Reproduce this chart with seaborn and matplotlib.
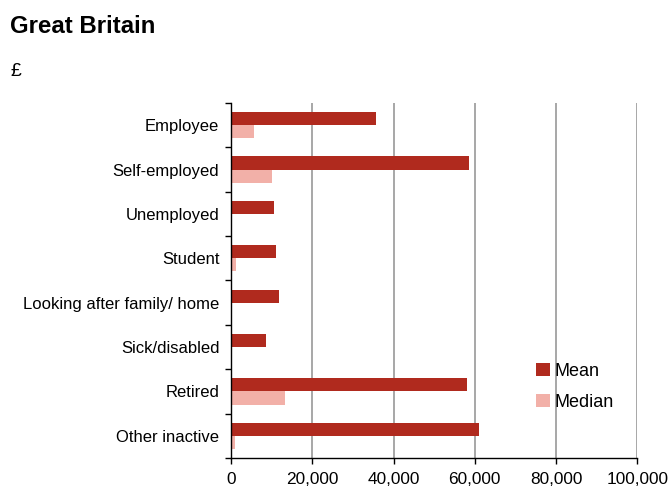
import matplotlib
matplotlib.use("Agg")
import matplotlib.pyplot as plt
import seaborn as sns
import pandas as pd
from matplotlib.ticker import FuncFormatter, FixedLocator
from matplotlib.patches import Patch

categories = ["Employee", "Self-employed", "Unemployed", "Student",
              "Looking after family/ home", "Sick/disabled", "Retired",
              "Other inactive"]
mean_values = [35600, 58500, 10500, 11000, 11700, 8500, 58000, 61000]
median_values = [5600, 10000, 0, 1200, 0, 0, 13200, 900]
series = ["Mean", "Median"]
colors = {"Mean": "#B02A1E", "Median": "#F2B0A8"}

df = pd.DataFrame({
    "category": categories * 2,
    "value": mean_values + median_values,
    "series": ["Mean"] * len(categories) + ["Median"] * len(categories),
})

sns.set_theme(style="white")
plt.rcParams["font.family"] = ["Liberation Sans", "DejaVu Sans"]
plt.rcParams["text.color"] = "black"

fig = plt.figure(figsize=(6.7, 4.88), dpi=100)
ax = fig.add_axes([0.345, 0.0615, 0.606, 0.7275])

sns.barplot(data=df, y="category", x="value", hue="series", order=categories,
            hue_order=series, palette=colors, orient="h", width=0.59,
            saturation=1, ax=ax, legend=False, linewidth=0)

ax.set_xlim(0, 100000)
ax.set_ylim(7.5, -0.5)
ax.set_xticks(range(0, 100001, 20000))
ax.xaxis.set_major_formatter(FuncFormatter(lambda v, p: f"{int(v):,}"))
ax.grid(axis="x", color="#A0A0A0", linewidth=1.3)
ax.set_axisbelow(True)
ax.set_xlabel("")
ax.set_ylabel("")

for side in ["top", "right"]:
    ax.spines[side].set_visible(False)
for side in ["left", "bottom"]:
    ax.spines[side].set_color("black")
    ax.spines[side].set_linewidth(1.0)

ax.tick_params(axis="y", which="major", length=0, pad=8.5, labelsize=12,
               labelcolor="black")
ax.yaxis.set_minor_locator(FixedLocator([i - 0.5 for i in range(len(categories) + 1)]))
ax.tick_params(axis="y", which="minor", length=4, width=1, color="black",
               direction="out", left=True)
ax.tick_params(axis="x", which="major", length=4, width=1, color="black",
               direction="out", bottom=True, labelsize=12.4, labelcolor="black",
               pad=6)

handles = [Patch(facecolor=colors[s], edgecolor="none") for s in series]
fig.legend(handles, series, loc="upper left", bbox_to_anchor=(0.8, 0.256),
           frameon=False, fontsize=13, handlelength=0.75, handleheight=0.75,
           handletextpad=0.3, labelspacing=0.78, borderpad=0,
           borderaxespad=0, labelcolor="black")

fig.text(0.015, 0.932, "Great Britain", fontsize=17.3, fontweight="bold",
         color="black", va="baseline")
fig.text(0.015, 0.844, "£", fontsize=14, color="black", va="baseline")

fig.savefig("out.png", dpi=100, facecolor="white")
